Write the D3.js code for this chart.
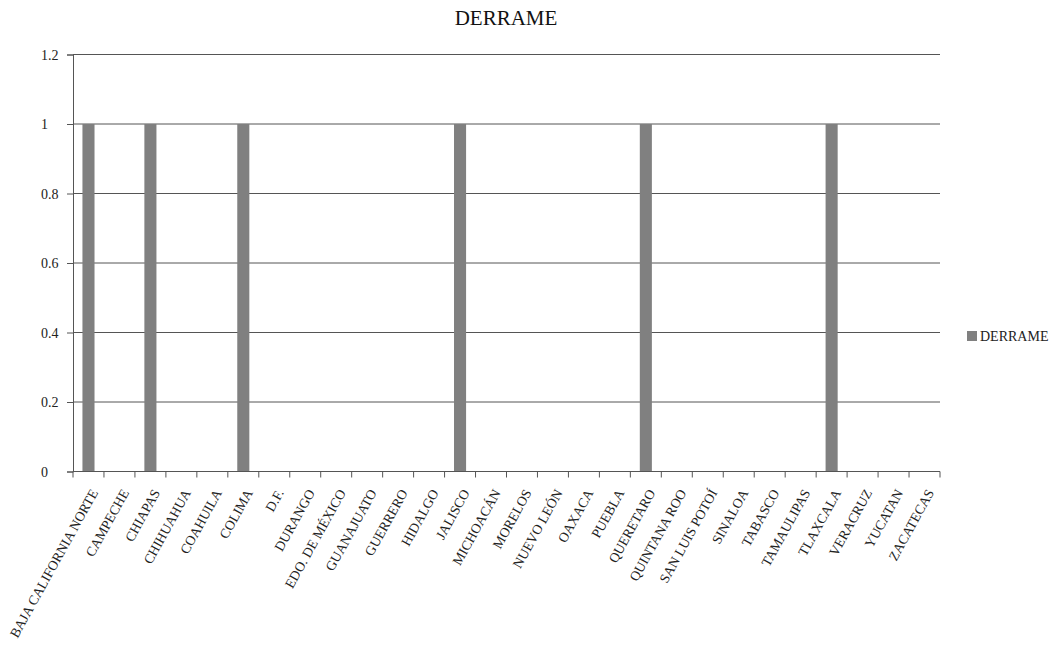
<!DOCTYPE html>
<html>
<head>
<meta charset="utf-8">
<script src="https://cdn.jsdelivr.net/npm/d3@7"></script>
<style>
  body { margin: 0; background: #fff; }
  svg text { font-family: "Liberation Serif", "Times New Roman", "DejaVu Serif", serif; }
</style>
</head>
<body>
<svg id="chart" width="1055" height="653"></svg>
<script>
// States and DERRAME counts
const estados = [
  "BAJA CALIFORNIA NORTE", "CAMPECHE", "CHIAPAS", "CHIHUAHUA", "COAHUILA",
  "COLIMA", "D.F.", "DURANGO", "EDO. DE MÉXICO", "GUANAJUATO", "GUERRERO",
  "HIDALGO", "JALISCO", "MICHOACÁN", "MORELOS", "NUEVO LEÓN", "OAXACA",
  "PUEBLA", "QUERETARO", "QUINTANA ROO", "SAN LUIS POTOÍ", "SINALOA",
  "TABASCO", "TAMAULIPAS", "TLAXCALA", "VERACRUZ", "YUCATAN", "ZACATECAS"
];
const derrame = [
  1, 0, 1, 0, 0,
  1, 0, 0, 0, 0, 0,
  0, 1, 0, 0, 0, 0,
  0, 1, 0, 0, 0,
  0, 0, 1, 0, 0, 0
];
const yTicks = [0, 0.2, 0.4, 0.6, 0.8, 1, 1.2];
const seriesName = "DERRAME";
const titleText = "DERRAME";

const serif = "'Liberation Serif', 'Times New Roman', 'DejaVu Serif', serif";
const svg = d3.select("#chart");
const plot = { left: 73, right: 940, top: 54.5, bottom: 471.5 };

const x = d3.scaleBand()
  .domain(estados)
  .range([plot.left, plot.right])
  .paddingInner(0.61)
  .paddingOuter(0.305);

const xOuter = d3.scaleBand()
  .domain(estados)
  .range([plot.left, plot.right]);

const y = d3.scaleLinear()
  .domain([0, 1.2])
  .range([plot.bottom, plot.top]);

const lineColor = "#555";

// Title
svg.append("text")
  .attr("x", 506)
  .attr("y", 25)
  .attr("text-anchor", "middle")
  .attr("font-family", serif)
  .attr("font-size", 21)
  .attr("fill", "#111")
  .text(titleText);

// Horizontal gridlines
svg.append("g")
  .selectAll("line")
  .data(yTicks.filter(d => d > 0))
  .join("line")
  .attr("x1", plot.left)
  .attr("x2", plot.right)
  .attr("y1", d => y(d))
  .attr("y2", d => y(d))
  .attr("stroke", lineColor)
  .attr("stroke-width", 1);

// Bars
svg.append("g")
  .selectAll("rect")
  .data(estados.map((e, i) => ({ e, v: derrame[i] })))
  .join("rect")
  .attr("x", d => x(d.e))
  .attr("width", x.bandwidth())
  .attr("y", d => y(d.v))
  .attr("height", d => y(0) - y(d.v))
  .attr("fill", "#808080");

// Y axis
const yAxis = svg.append("g")
  .attr("transform", `translate(${plot.left},0)`)
  .call(d3.axisLeft(y).tickValues(yTicks).tickSize(6).tickFormat(d3.format("~g")))
  .attr("font-family", serif);
yAxis.select(".domain").attr("stroke", lineColor);
yAxis.selectAll(".tick line").attr("stroke", lineColor);
yAxis.selectAll(".tick text")
  .attr("x", 41 - plot.left)
  .attr("text-anchor", "start")
  .attr("dy", "0.35em")
  .attr("font-size", 14)
  .attr("font-family", serif)
  .attr("fill", "#222");

// X axis: boundary ticks between categories
const xAxisG = svg.append("g");
xAxisG.append("line")
  .attr("x1", plot.left).attr("x2", plot.right)
  .attr("y1", plot.bottom).attr("y2", plot.bottom)
  .attr("stroke", lineColor);
const bounds = estados.map(e => xOuter(e)).concat([plot.right]);
xAxisG.selectAll("line.tk")
  .data(bounds)
  .join("line")
  .attr("class", "tk")
  .attr("x1", d => d).attr("x2", d => d)
  .attr("y1", plot.bottom).attr("y2", plot.bottom + 6)
  .attr("stroke", lineColor);

// Rotated category labels
xAxisG.selectAll("text")
  .data(estados)
  .join("text")
  .attr("transform", d => `translate(${xOuter(d) + xOuter.bandwidth() / 2 + 10},${plot.bottom + 21}) rotate(-61)`)
  .attr("text-anchor", "end")
  .attr("font-family", serif)
  .attr("font-size", 13.7)
  .attr("fill", "#222")
  .text(d => d);

// Legend
const legend = svg.append("g").attr("transform", "translate(967,331)");
legend.append("rect")
  .attr("width", 10).attr("height", 10)
  .attr("fill", "#808080");
legend.append("text")
  .attr("x", 13).attr("y", 10)
  .attr("font-family", serif)
  .attr("font-size", 14)
  .attr("fill", "#222")
  .text(seriesName);
</script>
</body>
</html>
